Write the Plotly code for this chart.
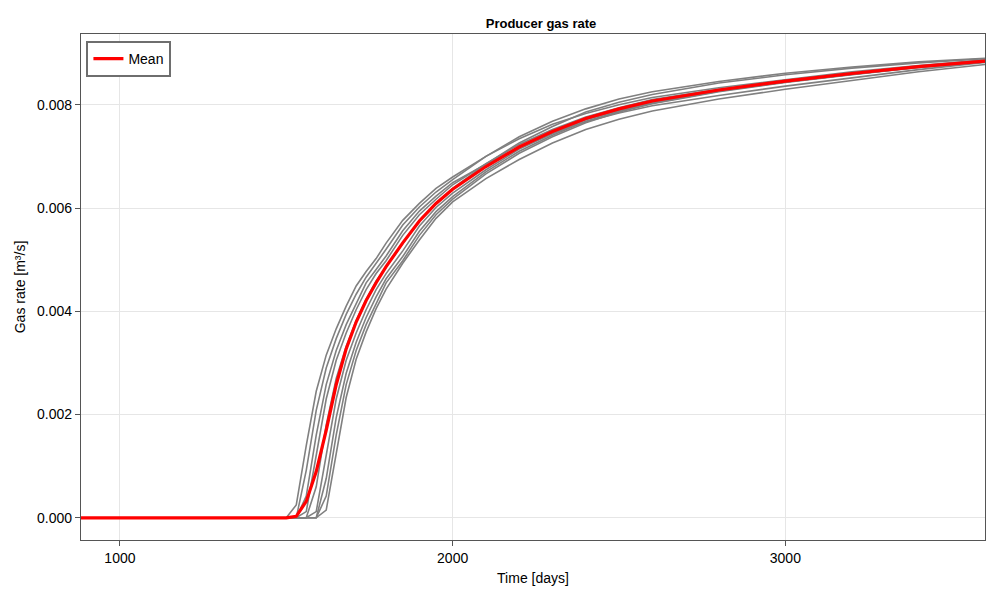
import numpy as np
import plotly.graph_objects as go

# report times [days]
time_days = [883, 1000, 1200, 1400, 1500, 1530, 1560, 1590, 1620, 1650, 1680,
             1710, 1740, 1770, 1800, 1850, 1900, 1950, 2000, 2100, 2200, 2300,
             2400, 2500, 2600, 2800, 3000, 3200, 3400, 3600]

# producer gas rate per ensemble member, in 1e-4 m3/s
zeros = [0, 0, 0, 0, 0]
member_a = zeros + [2.5, 14, 24.5, 31.5, 36.6, 41.0, 44.9, 47.7, 50.2, 53.2, 57.6, 60.9, 63.8, 66.0,
                    70.0, 73.4, 76.2, 78.3, 80.0, 81.4, 83.3, 84.9, 86.4, 87.6, 88.7]
member_b = zeros + [0, 9.2, 20.8, 29.0, 34.7, 39.4, 43.3, 46.6, 49.2, 52.0, 56.7, 60.2, 63.1, 65.5,
                    70.0, 73.8, 76.8, 79.2, 81.1, 82.5, 84.5, 86.1, 87.3, 88.3, 89.0]
member_c = zeros + [0, 4.2, 16.0, 25.8, 32.4, 37.4, 41.6, 45.5, 48.1, 50.7, 55.6, 59.4, 62.3, 64.9,
                    68.5, 71.8, 74.5, 76.7, 78.4, 79.8, 81.8, 83.6, 85.2, 86.8, 88.2]
member_d = zeros + [0, 1.2, 12.0, 23.0, 30.5, 35.8, 40.3, 44.2, 47.3, 49.8, 54.7, 58.7, 61.7, 64.5,
                    68.6, 72.3, 75.2, 77.6, 79.4, 81.0, 83.0, 84.7, 86.2, 87.4, 88.5]
member_e = zeros + [0, 0, 6.0, 18.0, 27.0, 33.2, 38.2, 42.3, 45.9, 48.6, 53.2, 57.6, 60.9, 63.8,
                    68.5, 72.6, 75.8, 78.6, 80.5, 82.0, 84.2, 85.8, 87.1, 88.1, 88.9]
member_f = zeros + [0, 0, 1.2, 12.0, 23.0, 30.5, 35.8, 40.3, 44.2, 47.3, 51.7, 56.5, 60.1, 62.9,
                    67.4, 71.4, 74.4, 77.1, 78.9, 80.5, 82.7, 84.4, 85.9, 87.3, 88.4]
member_g = zeros + [0, 0, 0, 7.6, 19.4, 28.0, 34.0, 38.8, 42.8, 46.3, 50.6, 55.5, 59.3, 62.2,
                    67.0, 71.0, 74.1, 76.8, 78.7, 80.3, 82.6, 84.4, 85.9, 87.2, 88.3]
member_h = zeros + [0, 0, 0, 4.2, 16.0, 25.8, 32.4, 37.4, 41.6, 45.5, 49.8, 54.7, 58.7, 61.7,
                    66.6, 70.6, 73.8, 76.5, 78.6, 80.2, 82.5, 84.3, 85.8, 87.2, 88.3]
member_i = zeros + [0, 0, 0, 1.5, 12.4, 23.3, 30.7, 36.0, 40.5, 44.3, 49.3, 53.8, 58.0, 61.2,
                    65.7, 69.4, 72.6, 75.2, 77.2, 78.8, 81.1, 83.0, 84.7, 86.4, 87.8]

members = [member_a, member_b, member_c, member_d, member_e,
           member_f, member_g, member_h, member_i]
rates = np.array(members) * 1e-4
mean_rate = rates.mean(axis=0)

fig = go.Figure()
for r in rates:
    fig.add_trace(go.Scatter(x=time_days, y=r, mode="lines",
                             line=dict(color="#808080", width=1.6),
                             showlegend=False, hoverinfo="skip"))
fig.add_trace(go.Scatter(x=time_days, y=mean_rate, mode="lines", name="Mean",
                         line=dict(color="#ff0000", width=3.2)))

axis_style = dict(showline=True, mirror=True, linecolor="#555555", linewidth=1.3,
                  showgrid=True, gridcolor="#e6e6e6", gridwidth=1,
                  ticks="outside", ticklen=5, tickcolor="#555555",
                  zeroline=False, tickfont=dict(size=14, color="#000000"))

# page body has an 8px margin, so the plot box sits at 81..985 x 34..540
fig.update_layout(
    width=1000, height=600,
    paper_bgcolor="white", plot_bgcolor="white",
    font=dict(family="Liberation Sans, Arial, sans-serif", color="#000000"),
    margin=dict(l=73, r=23, t=26, b=68),
    title=dict(text="<b>Producer gas rate</b>", x=0.533, xanchor="center",
               y=0.975, yanchor="middle", font=dict(size=13)),
    legend=dict(x=0.006, y=0.986, xanchor="left", yanchor="top",
                bordercolor="#6e6e6e", borderwidth=2, bgcolor="white",
                itemwidth=30, font=dict(size=14)),
    xaxis=dict(axis_style, range=[883, 3600], dtick=1000, tickformat="d",
               title=dict(text="Time [days]", font=dict(size=14), standoff=8)),
    yaxis=dict(axis_style, range=[-0.00043, 0.00937], dtick=0.002, tickformat=".3f",
               title=dict(text="Gas rate [m³/s]", font=dict(size=14), standoff=8)),
)

fig.write_html("out.html")
